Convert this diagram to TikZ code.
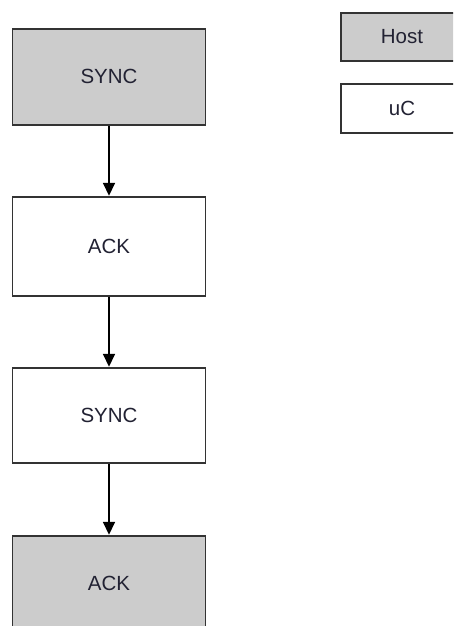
\documentclass[tikz,border=0pt]{standalone}
\usepackage{fontspec}
\setmainfont{Liberation Sans}
\usetikzlibrary{arrows.meta}
\definecolor{boxgray}{HTML}{CCCCCC}
\definecolor{edge}{HTML}{333333}
\definecolor{txt}{HTML}{222233}
\tikzset{
  flowbox/.style={draw=edge, line width=1.8pt, inner sep=0pt, minimum width=193pt,
    font=\fontsize{20.5}{24}\selectfont, text=txt},
  hostfill/.style={fill=boxgray},
  ucfill/.style={fill=white},
  legendbox/.style={draw=edge, line width=1.8pt, inner sep=0pt, minimum width=122pt,
    minimum height=48pt, font=\fontsize{20.5}{24}\selectfont, text=txt},
  flowarrow/.style={draw=black, line width=1.6pt, -{Triangle[width=12pt,length=13pt]}}
}
\begin{document}
\begin{tikzpicture}[x=1pt,y=-1pt]
\useasboundingbox (0,0) rectangle (453,626);
\fill[white] (0,0) rectangle (453,626);
\clip (0,0) rectangle (453,626);
\node[flowbox, hostfill, minimum height=96.3pt] (s1) at (109,76.8) {SYNC};
\node[flowbox, ucfill, minimum height=99pt] (a1) at (109,246.2) {ACK};
\node[flowbox, ucfill, minimum height=95.6pt] (s2) at (109,415.5) {SYNC};
\node[flowbox, hostfill, minimum height=96pt] (a2) at (109,583.7) {ACK};
\node[legendbox, hostfill] (host) at (402,36.7) {Host};
\node[legendbox, ucfill, minimum height=49pt] (uc) at (402,108.8) {uC};
\draw[flowarrow] (s1.south) -- (a1.north);
\draw[flowarrow] (a1.south) -- (s2.north);
\draw[flowarrow] (s2.south) -- (a2.north);
\end{tikzpicture}
\end{document}
